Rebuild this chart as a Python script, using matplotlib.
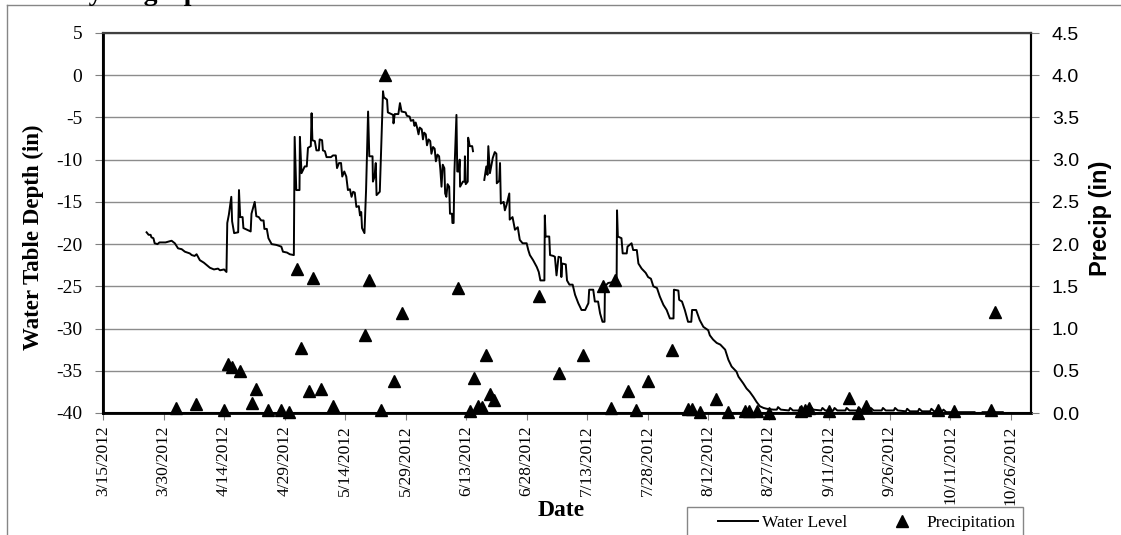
import numpy as np
import pandas as pd
import matplotlib
matplotlib.use("Agg")
import matplotlib.pyplot as plt
from matplotlib.lines import Line2D
from matplotlib.patches import Rectangle

plt.rcParams["axes.unicode_minus"] = False
serif = "Liberation Serif"
sans = "Liberation Sans"

start = pd.Timestamp("2012-03-15")

# water level: days since 3/15/2012 and depth (in); NaN = missing record
wl_day = [10.8, 11.3, 11.8, 12.0, 12.5, 12.8, 13.5, 14.0, 15.5, 17.0, 17.8, 18.6, 19.5, 20.3, 21.5, 22.0,
          22.7, 23.2, 24.0, 25.0, 26.5, 27.5, 28.5, 29.0, 30.0, 30.6, 30.8, 31.2, 31.8, 32.0, 32.5, 33.5,
          33.7, 34.0, 34.6, 34.8, 36.6, 36.8, 37.6, 38.0, 38.6, 39.2, 39.8, 40.0, 40.6, 41.0, 41.8, 43.0,
          44.2, 44.6, 45.6, 46.3, 47.3, 47.5, 47.9, 48.7, 48.8, 49.2, 49.6, 50.0, 50.5, 50.8, 51.5, 51.7,
          51.9, 52.5, 52.9, 53.5, 53.7, 54.3, 54.5, 55.0, 55.4, 56.5, 57.0, 57.7, 58.0, 58.5, 59.0, 59.3,
          59.8, 60.3, 60.7, 61.2, 61.6, 62.0, 62.4, 62.8, 63.4, 63.7, 64.0, 64.2, 64.8, 65.2, 65.7, 66.0,
          66.8, 66.9, 67.3, 67.6, 67.8, 68.6, 69.4, 69.6, 70.4, 70.6, 71.9, 72.0, 72.3, 73.2, 73.6, 74.0,
          75.0, 75.3, 76.0, 76.3, 76.9, 77.2, 77.5, 77.9, 78.2, 78.5, 79.0, 79.3, 79.6, 80.0, 80.3, 80.7,
          81.1, 81.4, 81.8, 82.2, 82.5, 82.9, 83.3, 83.6, 83.9, 84.2, 84.6, 84.8, 85.1, 85.4, 85.8, 86.0,
          86.5, 86.6, 86.9, 87.1, 87.6, 87.8, 88.2, 88.4, 88.5, 89.2, 89.6, 89.7, 89.9, 90.4, 90.5, 90.9,
          91.5, 91.7, 92.5,
          94.5, 95.0, 95.3, 95.5, 95.9, 96.6, 97.1, 97.5, 97.6, 98.2, 98.4, 98.6, 99.3, 99.6, 100.0, 100.7,
          100.8, 101.5, 102.1, 102.8, 103.3, 104.0, 105.0, 105.4, 105.8, 106.6, 107.5, 108.0, 108.4, 109.4,
          109.5, 109.7, 110.6, 110.8, 111.6, 112.0, 112.4, 112.9, 113.5, 113.6, 113.8, 114.7, 115.0, 115.6,
          116.4, 117.0, 117.8, 118.6, 119.5, 120.3, 120.5, 121.5, 121.9, 122.7, 123.2, 123.8, 124.3, 124.4,
          125.2, 126.5, 127.3, 127.4, 127.6, 128.5, 128.8, 129.8, 130.0, 131.0, 131.4, 132.3, 132.7, 133.5,
          134.5, 135.1, 135.8, 136.4, 137.3, 138.0, 138.9, 139.7, 140.5, 141.4, 141.5, 142.6, 142.8, 143.5,
          144.2, 145.0, 145.8, 146.0, 147.0, 147.9, 148.8, 150.0, 150.4, 151.2, 152.1, 153.0, 154.2, 155.0,
          155.8, 157.0, 157.5, 158.7, 159.5, 160.3, 161.2, 162.0, 162.8, 163.7, 164.5, 166.1,
          167.0, 167.3, 168.0, 170.0, 170.3, 171.0, 172.5, 172.8, 173.5, 175.0, 175.3, 176.0, 178.0, 178.3,
          179.0, 181.0, 181.3, 182.0, 184.0, 184.3, 185.0, 187.0, 187.3, 188.0, 190.0, 190.3, 191.0, 193.0,
          193.3, 194.0, 196.0, 196.3, 197.0, 199.0, 199.3, 200.0, 202.0, 202.3, 203.0, 205.0, 205.3, 206.0,
          208.0, 208.3, 209.0, 212.0, 216.0, 217.0, 218.0, 223.0]
wl_level = [-18.6, -18.9, -18.9, -19.2, -19.3, -19.9, -20.0, -19.8, -19.8, -19.6, -19.9, -20.5, -20.6, -20.9, -21.1, -21.3,
            -21.4, -21.2, -21.9, -22.2, -22.8, -23.0, -22.9, -23.1, -23.0, -23.3, -17.5, -16.5, -14.4, -17.3, -18.7, -18.6,
            -13.6, -16.8, -16.8, -18.1, -18.5, -16.4, -15.0, -16.7, -16.8, -17.2, -17.2, -18.2, -18.2, -19.3, -20.0, -20.1,
            -20.3, -20.9, -21.0, -21.2, -21.3, -7.3, -13.6, -13.6, -7.3, -11.6, -11.2, -10.8, -10.8, -8.6, -8.4, -4.5,
            -7.7, -7.8, -8.9, -8.9, -7.6, -7.7, -8.9, -9.0, -9.7, -9.7, -9.5, -9.5, -11.0, -10.4, -10.4, -12.0,
            -11.4, -12.0, -13.6, -13.5, -14.4, -13.8, -13.9, -15.6, -15.5, -16.6, -16.2, -18.1, -18.7, -13.6, -4.3, -9.6,
            -9.6, -12.6, -12.0, -10.4, -14.2, -13.8, -1.9, -2.6, -2.9, -4.4, -4.7, -5.7, -4.6, -4.6, -3.3, -4.3,
            -4.4, -4.8, -4.9, -5.4, -5.3, -6.0, -5.6, -6.3, -7.0, -6.2, -6.4, -7.6, -6.8, -7.0, -8.3, -7.6,
            -7.8, -9.3, -8.5, -8.7, -10.2, -9.4, -9.6, -11.1, -13.2, -10.6, -11.0, -14.0, -14.4, -12.9, -13.2, -16.4,
            -16.4, -17.5, -17.5, -11.4, -4.7, -11.4, -11.4, -10.0, -13.2, -12.6, -12.6, -9.6, -12.9, -12.6, -7.4, -8.4,
            -8.4, -9.0, np.nan,
            -12.4, -10.8, -11.8, -8.4, -11.6, -9.8, -9.1, -9.3, -12.8, -12.5, -10.4, -15.2, -15.0, -16.0, -15.4, -14.0,
            -17.1, -16.8, -18.3, -18.0, -19.5, -19.9, -19.9, -20.7, -21.3, -21.9, -22.7, -23.3, -24.3, -24.3,
            -16.6, -19.1, -19.1, -21.3, -21.4, -21.5, -23.7, -21.5, -21.6, -23.9, -22.3, -22.4, -24.3, -24.8,
            -24.8, -26.0, -27.0, -27.8, -27.8, -27.0, -25.4, -25.4, -26.8, -26.8, -28.2, -29.2, -29.2, -25.0,
            -24.6, -24.5, -24.3, -16.0, -19.1, -19.3, -21.1, -21.1, -20.3, -19.9, -20.7, -20.7, -22.3, -22.9,
            -23.4, -23.9, -24.1, -25.0, -25.2, -26.2, -27.2, -27.8, -28.8, -28.8, -25.4, -25.5, -26.6, -26.8,
            -27.8, -29.2, -29.2, -27.8, -27.8, -29.0, -29.8, -30.2, -30.8, -31.3, -31.7, -31.9, -32.5, -33.7,
            -34.5, -35.1, -35.7, -36.5, -37.1, -37.5, -38.1, -38.7, -39.2, -39.4, -39.5, -39.6,
            -39.6, -39.3, -39.6, -39.7, -39.4, -39.7, -39.7, -39.3, -39.7, -39.6, -39.2, -39.6, -39.7, -39.4,
            -39.7, -39.7, -39.4, -39.7, -39.7, -39.4, -39.7, -39.7, -39.3, -39.7, -39.7, -39.4, -39.7, -39.7,
            -39.4, -39.7, -39.7, -39.4, -39.7, -39.8, -39.5, -39.8, -39.8, -39.5, -39.8, -39.8, -39.5, -39.8,
            -39.8, -39.6, -39.9, -39.9, -39.9, np.nan, -39.9, -39.9]

# daily precipitation (in)
precip_date = ["2012-04-02", "2012-04-07", "2012-04-14", "2012-04-15", "2012-04-16", "2012-04-18",
               "2012-04-21", "2012-04-22", "2012-04-25", "2012-04-28", "2012-04-30", "2012-05-02",
               "2012-05-03", "2012-05-05", "2012-05-06", "2012-05-08", "2012-05-11", "2012-05-19",
               "2012-05-20", "2012-05-23", "2012-05-24", "2012-05-26", "2012-05-28", "2012-06-11",
               "2012-06-14", "2012-06-15", "2012-06-16", "2012-06-17", "2012-06-18", "2012-06-19",
               "2012-06-20", "2012-07-01", "2012-07-06", "2012-07-12", "2012-07-17", "2012-07-19",
               "2012-07-20", "2012-07-23", "2012-07-25", "2012-07-28", "2012-08-03", "2012-08-07",
               "2012-08-08", "2012-08-10", "2012-08-14", "2012-08-17", "2012-08-21", "2012-08-22",
               "2012-08-24", "2012-08-27", "2012-09-04", "2012-09-05", "2012-09-06", "2012-09-11",
               "2012-09-16", "2012-09-18", "2012-09-20", "2012-10-08", "2012-10-12", "2012-10-21",
               "2012-10-22"]
precip_in = [0.06, 0.11, 0.03, 0.58, 0.55, 0.50, 0.12, 0.29, 0.04, 0.04, 0.01, 1.71,
             0.77, 0.26, 1.60, 0.29, 0.08, 0.92, 1.58, 0.04, 4.00, 0.38, 1.19, 1.48,
             0.02, 0.41, 0.08, 0.07, 0.69, 0.23, 0.15, 1.39, 0.47, 0.69, 1.50, 0.06,
             1.58, 0.26, 0.04, 0.38, 0.75, 0.05, 0.05, 0.01, 0.16, 0.01, 0.02, 0.02,
             0.02, 0.00, 0.02, 0.04, 0.06, 0.02, 0.18, 0.00, 0.08, 0.04, 0.02, 0.04,
             1.20]

W, H = 1121, 535
fig = plt.figure(figsize=(W / 100, H / 100), dpi=100)

# chart area border (partly cropped) and cropped title
fig.add_artist(Line2D([7 / W, 1], [1 - 5 / H, 1 - 5 / H], color="#868686", lw=1))
fig.add_artist(Line2D([7 / W, 7 / W], [0, 1 - 5 / H], color="#868686", lw=1))
fig.text(68 / W, 1.0, "Hydrograph", fontsize=20, fontweight="bold", family=serif,
         ha="left", va="baseline")

ax = fig.add_axes([103 / W, 1 - 413 / H, (1031 - 103) / W, (413 - 33) / H])
ax2 = ax.twinx()

wl_t = start + pd.to_timedelta(wl_day, unit="D")
ax.plot(wl_t, wl_level, color="black", lw=1.4, zorder=3)

ax.set_ylim(-40, 5)
ax.set_yticks(np.arange(-40, 6, 5))
ax.set_xlim(start, start + pd.Timedelta(days=230))
xt = pd.date_range(start, periods=16, freq="15D")
ax.set_xticks(xt)
ax.set_xticklabels([f"{d.month}/{d.day}/{d.year}" for d in xt], rotation=90,
                   family=serif, fontsize=12.5)
ax.tick_params(axis="x", length=5, color="#808080", pad=4)
ax.tick_params(axis="y", length=6, color="#808080", pad=9)
for lab in ax.get_yticklabels():
    lab.set_family(serif)
    lab.set_fontsize(14)
ax.yaxis.grid(True, color="#8c8c8c", lw=1)
ax.set_axisbelow(True)

ax2.plot(pd.to_datetime(precip_date), precip_in, ls="none", marker="^", ms=8,
         color="black", clip_on=False, zorder=4)
ax2.set_ylim(0, 4.5)
ax2.set_yticks(np.arange(0, 4.51, 0.5))
ax2.set_yticklabels([f"{v:.1f}" for v in np.arange(0, 4.51, 0.5)], family=sans, fontsize=14)
ax2.tick_params(axis="y", length=6, color="#808080", pad=9)

for a in (ax, ax2):
    for s in a.spines.values():
        s.set_color("black")
        s.set_linewidth(1.5)
ax.spines["left"].set_linewidth(2)
ax.spines["bottom"].set_linewidth(2)
ax2.spines["top"].set_color("#404040")

fig.text(33 / W, 1 - 237 / H, "Water Table Depth (in)", rotation=90, fontsize=16.5,
         fontweight="bold", family=serif, ha="center", va="center")
fig.text(1101 / W, 1 - 218 / H, "Precip (in)", rotation=90, fontsize=17,
         fontweight="bold", family=sans, ha="center", va="center")
fig.text(561 / W, 1 - 510 / H, "Date", fontsize=17, fontweight="bold", family=serif,
         ha="center", va="center")

# legend box, cropped at the bottom of the image
fig.add_artist(Rectangle((687 / W, -0.02), (1023 - 687) / W, 1 - 507 / H + 0.02,
                         transform=fig.transFigure, fill=True, facecolor="white",
                         edgecolor="#868686", lw=1))
handles = [Line2D([], [], color="black", lw=1.4),
           Line2D([], [], ls="none", marker="^", ms=8, color="black")]
fig.legend(handles, ["Water Level", "Precipitation"], loc="center left",
           bbox_to_anchor=(718 / W, 1 - 523 / H), ncol=2, frameon=False,
           prop={"family": serif, "size": 12.5}, handlelength=2.3,
           handletextpad=0.25, columnspacing=2.0, borderpad=0, borderaxespad=0)

fig.savefig("out.png", dpi=100)
